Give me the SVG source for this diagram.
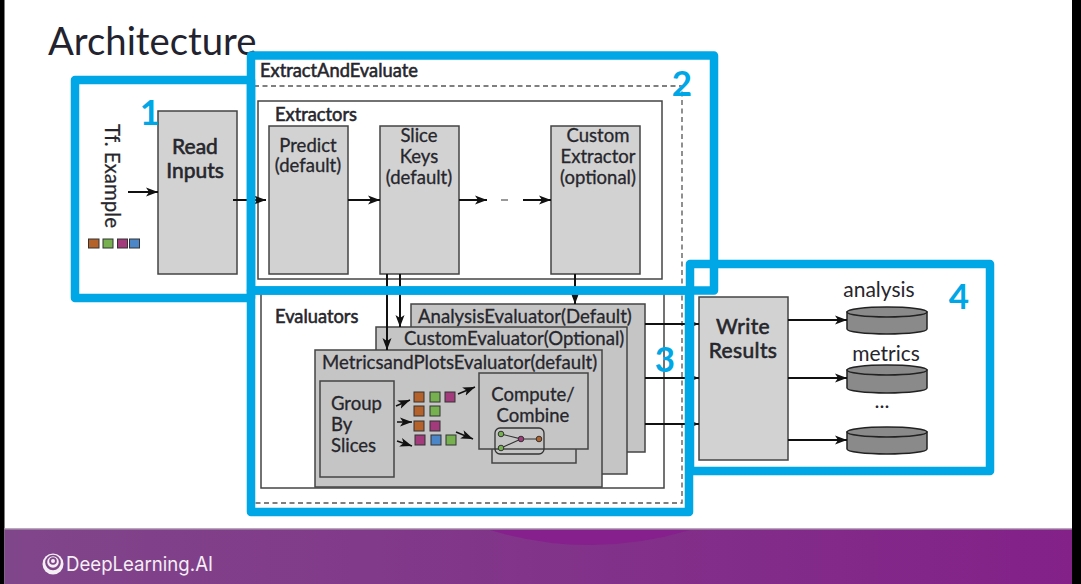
<svg xmlns="http://www.w3.org/2000/svg" width="1081" height="584" viewBox="0 0 1081 584">
<style>
text{font-family:Lato,"Liberation Sans",sans-serif;fill:#26262c}
.box{fill:#d2d2d2;stroke:#444;stroke-width:1.5}
.ev{fill:#c5c5c5;stroke:#444;stroke-width:1.5}
.open{fill:none;stroke:#444;stroke-width:1.5}
.h{font-size:18.300px;stroke:#26262c;stroke-width:.55}
.big{font-size:21px;stroke:#26262c;stroke-width:.6}
.l17{font-size:18.500px;stroke:#26262c;stroke-width:.3}
.l18{font-size:18.600px;stroke:#26262c;stroke-width:.3}
.store{font-size:21px}
.c{text-anchor:middle}
.conn{fill:none;stroke:#111;stroke-width:2;marker-end:url(#a)}
.thin{fill:none;stroke:#111;stroke-width:1.5;marker-end:url(#a)}
.frame{fill:none;stroke:#00a7e7;stroke-width:8.5;stroke-linejoin:round}
.num{font-size:35px;font-weight:700;fill:#00a7e7;text-anchor:middle}
.cyl{fill:#8a8a8a;stroke:#222;stroke-width:1.5}
.sq{stroke:#333;stroke-width:1}
.o{fill:#b5622a}.g{fill:#76b04f}.m{fill:#a23a7c}.bl{fill:#4a86c8}
</style>
<defs>
<marker id="a" markerUnits="userSpaceOnUse" markerWidth="13" markerHeight="11" refX="12" refY="5.500" orient="auto"><path d="M0 1 L12 5.500 L0 10 L3 5.500Z" fill="#111"/></marker>
<linearGradient id="foot" x1="0" x2="1" y1="0" y2="0"><stop offset="0" stop-color="#80468a"/><stop offset="1" stop-color="#832189"/></linearGradient>
</defs>
<rect width="1081" height="584" fill="#000"/>
<rect x="4.500" width="1067.500" height="584" fill="#fff"/>
<g id="footer">
<rect x="4.500" y="529" width="1067.500" height="55" fill="url(#foot)"/>
<rect x="4.500" y="528" width="1067.500" height="1.500" fill="#b9a8bb"/>
<path d="M490 530 Q590 560 690 530Z" fill="#86208c"/>
<circle cx="53" cy="564" r="10.500" fill="#f4eef5"/>
<circle cx="53" cy="562.500" r="7.800" fill="#80468a"/>
<circle cx="53" cy="562" r="5.800" fill="#f4eef5"/>
<circle cx="53" cy="561" r="3.800" fill="#80468a"/>
<circle cx="53" cy="561" r="2" fill="#f4eef5"/>
<text x="66" y="571" font-size="20" style="font-family:Inter,Lato,sans-serif;fill:#f4eef5" textLength="147" lengthAdjust="spacingAndGlyphs">DeepLearning.AI</text>
</g>
<text id="title" x="48" y="55" font-size="38.300" style="fill:#23232f">Architecture</text>
<g id="extract-and-evaluate">
<rect x="254" y="86" width="428" height="417" fill="none" stroke="#555" stroke-width="1.3" stroke-dasharray="5 3.5"/>
<text x="260" y="77" class="h">ExtractAndEvaluate</text>
</g>
<g id="tf-example">
<text transform="translate(105 124) rotate(90)" font-size="20.500" stroke="#26262c" stroke-width=".25">Tf. Example</text>
<rect class="sq o" x="88.500" y="239" width="10.500" height="9"/>
<rect class="sq g" x="103" y="239" width="10" height="9"/>
<rect class="sq m" x="117.500" y="239" width="10" height="9"/>
<rect class="sq bl" x="129.500" y="239" width="10" height="9"/>
</g>
<g id="read-inputs">
<rect class="box" x="158" y="111" width="79" height="163"/>
<text x="195" y="154" class="big c">Read</text>
<text x="195" y="178" class="big c">Inputs</text>
</g>
<g id="extractors">
<rect x="258" y="101" width="404" height="178" fill="#fff" stroke="#444" stroke-width="1.5"/>
<text x="275" y="120.500" class="h">Extractors</text>
</g>
<g id="predict">
<rect class="box" x="269" y="126" width="79" height="148"/>
<text x="308" y="152" class="l17 c">Predict</text>
<text x="308" y="172" class="l17 c">(default)</text>
</g>
<g id="slice-keys">
<rect class="box" x="380" y="126" width="79" height="148"/>
<text x="419" y="141.500" class="l17 c">Slice</text>
<text x="419" y="162.500" class="l17 c">Keys</text>
<text x="419" y="183.500" class="l17 c">(default)</text>
</g>
<g id="custom-extractor">
<rect class="box" x="551" y="126" width="89" height="148"/>
<text x="598" y="141.500" class="l17 c">Custom</text>
<text x="598" y="162.500" class="l17 c">Extractor</text>
<text x="598" y="183.500" class="l17 c">(optional)</text>
</g>
<g id="evaluators">
<rect x="261" y="290" width="403" height="198" fill="#fff" stroke="#444" stroke-width="1.5"/>
<text x="275" y="322.500" class="h">Evaluators</text>
</g>
<g id="analysis-evaluator">
<rect class="ev" x="411" y="304" width="234" height="148"/>
<text x="418" y="323" class="l18">AnalysisEvaluator(Default)</text>
</g>
<g id="custom-evaluator">
<rect class="ev" x="376" y="327" width="251" height="147"/>
<text x="404" y="345" class="l18">CustomEvaluator(Optional)</text>
</g>
<g id="metrics-evaluator">
<rect class="ev" x="315" y="350" width="287" height="137"/>
<text x="322" y="369" class="l18">MetricsandPlotsEvaluator(default)</text>
</g>
<g id="group-by-slices">
<rect class="ev" x="320" y="381" width="74" height="96"/>
<text x="331" y="410" class="l17">Group</text>
<text x="331" y="431" class="l17">By</text>
<text x="331" y="452" class="l17">Slices</text>
</g>
<g id="slice-squares">
<rect class="sq o" x="414" y="392" width="10" height="10"/><rect class="sq g" x="430" y="392" width="10" height="10"/><rect class="sq m" x="445" y="392" width="10" height="10"/>
<rect class="sq o" x="414" y="406" width="10" height="10"/><rect class="sq g" x="430" y="406" width="10" height="10"/>
<rect class="sq o" x="414" y="421" width="10" height="10"/><rect class="sq m" x="430" y="421" width="10" height="10"/>
<rect class="sq m" x="415" y="435" width="10" height="10"/><rect class="sq bl" x="431" y="435" width="10" height="10"/><rect class="sq g" x="446" y="435" width="10" height="10"/>
</g>
<g id="compute-combine">
<rect class="open" x="492" y="440" width="84" height="23"/>
<rect class="ev" x="479" y="373" width="109" height="76"/>
<text x="533" y="400.500" class="l17 c">Compute/</text>
<text x="533" y="421.500" class="l17 c">Combine</text>
<rect x="495" y="428" width="49" height="26" rx="5" fill="none" stroke="#333" stroke-width="1.3"/>
<path d="M501 434 L521 439 L501 448 M521 439 H539" fill="none" stroke="#333" stroke-width="1.2"/>
<circle class="sq g" cx="501" cy="434" r="2.800"/><circle class="sq g" cx="501" cy="448" r="2.800"/><circle class="sq m" cx="521" cy="439" r="2.800"/><circle class="sq o" cx="539" cy="439" r="2.800"/>
</g>
<g id="write-results">
<rect class="box" x="699" y="297" width="89" height="163"/>
<text x="743" y="334" class="big c" style="letter-spacing:.4px">Write</text>
<text x="743" y="358" class="big c" style="letter-spacing:.4px">Results</text>
</g>
<g id="analysis-store">
<path class="cyl" d="M847 312 V329 A40 5 0 0 0 927 329 V312Z"/><ellipse class="cyl" cx="887" cy="312" rx="40" ry="5"/>
<text x="879" y="297" class="store c">analysis</text>
</g>
<g id="metrics-store">
<path class="cyl" d="M847 370 V388 A40 5 0 0 0 927 388 V370Z"/><ellipse class="cyl" cx="887" cy="370" rx="40" ry="5"/>
<text x="886" y="361" class="store c">metrics</text>
</g>
<g id="other-store">
<path class="cyl" d="M847 432 V449 A40 5 0 0 0 927 449 V432Z"/><ellipse class="cyl" cx="887" cy="432" rx="40" ry="5"/>
<text x="882" y="408" class="store c">...</text>
</g>
<g id="connectors">
<path class="conn" d="M128 192 H158"/>
<path class="conn" d="M233 200 H266"/>
<path class="conn" d="M348 200 H380"/>
<path class="conn" d="M459 200 H487"/>
<path d="M501 200 H508" stroke="#777" stroke-width="1.500" fill="none"/>
<path class="conn" d="M523 200 H551"/>
<path class="conn" d="M575 274 V304"/>
<path class="conn" d="M387 274 V350"/>
<path class="conn" d="M400 274 V327"/>
<path class="conn" d="M645 324 H699"/>
<path class="conn" d="M645 378 H699"/>
<path class="conn" d="M645 424 H699"/>
<path class="conn" d="M788 320 H847"/>
<path class="conn" d="M788 378 H847"/>
<path class="conn" d="M788 440 H847"/>
<path class="thin" d="M396 406 L410 400"/>
<path class="thin" d="M397 422 H412"/>
<path class="thin" d="M397 441 L412 446"/>
<path class="thin" d="M458 394 L475 387"/>
<path class="thin" d="M456 432 L473 439"/>
</g>
<g id="highlight-frames">
<rect class="frame" x="75" y="80" width="176" height="218"/>
<rect class="frame" x="251" y="55.500" width="463" height="235"/>
<rect class="frame" x="251" y="290.500" width="438" height="221.500"/>
<rect class="frame" x="690" y="264" width="300" height="207"/>
<text class="num" x="150" y="125">1</text>
<text class="num" x="682" y="96">2</text>
<text class="num" x="665" y="372">3</text>
<text class="num" x="959" y="309">4</text>
</g>
</svg>
